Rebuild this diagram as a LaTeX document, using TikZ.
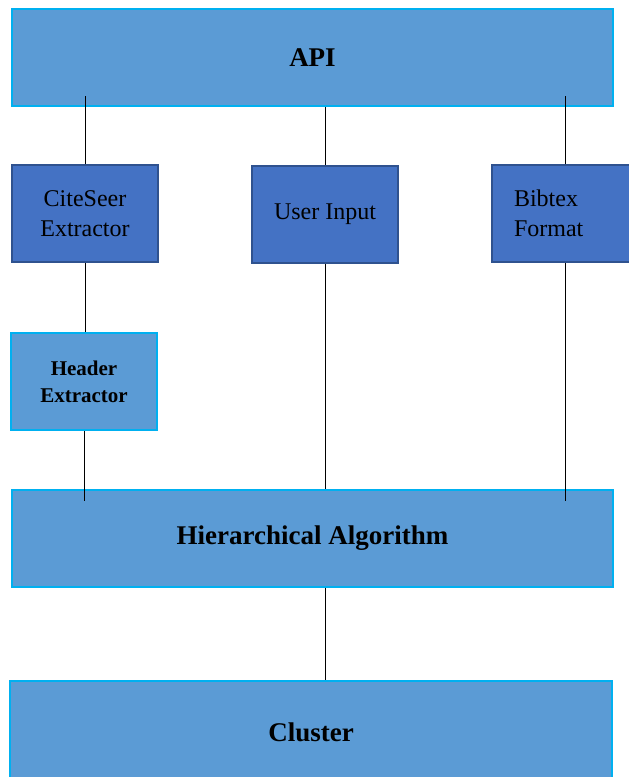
\documentclass[tikz,border=0pt]{standalone}
\usepackage{fontspec}
\setmainfont{Liberation Serif}
\definecolor{lightfill}{HTML}{5B9BD5}
\definecolor{lightedge}{HTML}{00B0F0}
\definecolor{darkfill}{HTML}{4472C4}
\definecolor{darkedge}{HTML}{2F528F}
\tikzset{
  widebox/.style={draw=lightedge, fill=lightfill, line width=2pt,
    minimum width=601pt, minimum height=97pt, inner sep=0pt,
    font=\fontsize{27}{32}\selectfont\bfseries},
  lightbox/.style={draw=lightedge, fill=lightfill, line width=2pt,
    minimum width=146pt, minimum height=97pt, inner sep=0pt, align=center,
    font=\fontsize{21}{27}\selectfont\bfseries},
  darkbox/.style={draw=darkedge, fill=darkfill, line width=2pt,
    minimum width=146pt, minimum height=97pt, inner sep=0pt, align=center,
    font=\fontsize{24}{30}\selectfont},
  link/.style={draw=black, line width=1pt}
}
\begin{document}
\begin{tikzpicture}[x=1pt, y=-1pt]
  \useasboundingbox (0,0) rectangle (629,777);

  % boxes
  \node[widebox] (api) at (312.5,57.5) {\raisebox{-2.5pt}{API}};
  \node[darkbox] (cse) at (85,213.5) {CiteSeer\\Extractor};
  \node[darkbox] (ui)  at (325,214.5) {User Input};
  \node[darkbox, align=left, text width=102pt, inner xsep=22pt] (bib) at (565,213.5) {Bibtex\\Format};
  \node[lightbox] (hdr) at (84,381.5) {Header\\Extractor};
  \node[widebox] (ha) at (312.5,538) {\raisebox{-2.5pt}{Hierarchical Algorithm}};
  % the bottom box runs past the lower edge of the page
  \node[widebox, minimum width=602pt, minimum height=104pt] (cl) at (311,733) {\raisebox{2pt}{Cluster}};

  % connectors
  \draw[link] (cse.north) -- ([yshift=11pt]cse.north |- api.south);
  \draw[link] (api.south -| ui.north) -- (ui.north);
  \draw[link] (bib.north) -- ([yshift=11pt]bib.north |- api.south);
  \draw[link] (cse.south) -- (cse.south |- hdr.north);
  \draw[link] (hdr.south) -- ([yshift=-12pt]hdr.south |- ha.north);
  \draw[link] (ui.south) -- (ui.south |- ha.north);
  \draw[link] (bib.south) -- ([yshift=-12pt]bib.south |- ha.north);
  \draw[link] (ha.south -| ui.south) -- (cl.north -| ui.south);
\end{tikzpicture}
\end{document}
